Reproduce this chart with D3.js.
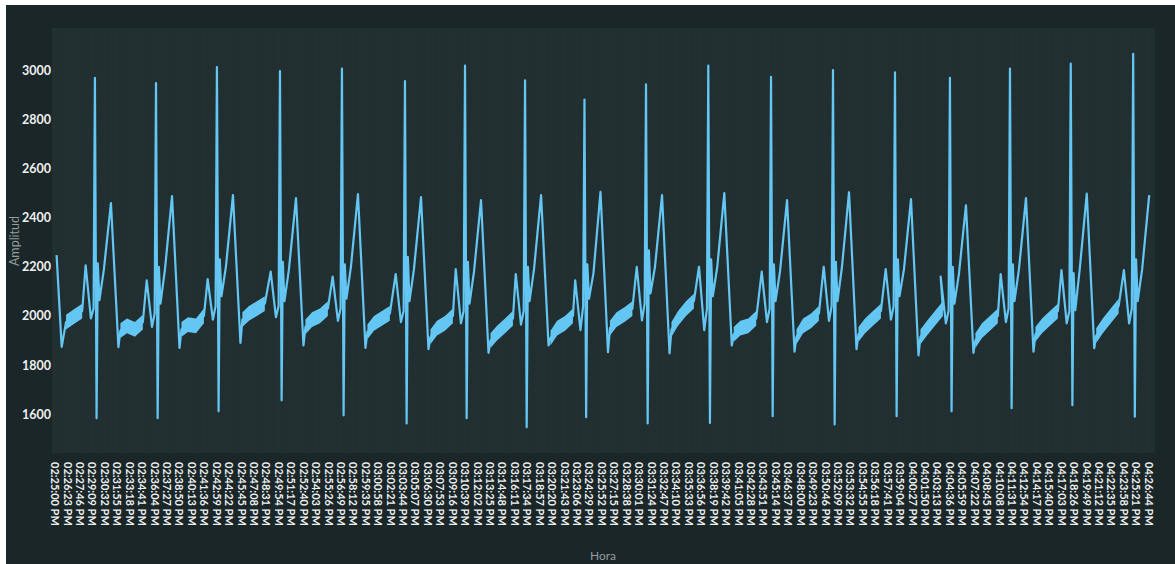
<!DOCTYPE html>
<html>
<head>
<meta charset="utf-8">
<script src="https://cdn.jsdelivr.net/npm/d3@7"></script>
<style>
  body { margin: 0; background: #fff; }
  text { font-family: Lato, "Open Sans", sans-serif; }
</style>
</head>
<body>
<div id="chart"></div>
<script>
// x tick labels (one every 83 s)
const tickLabels = [
  "02:25:00 PM","02:26:23 PM","02:27:46 PM","02:29:09 PM","02:30:32 PM","02:31:55 PM","02:33:18 PM","02:34:41 PM",
  "02:36:04 PM","02:37:27 PM","02:38:50 PM","02:40:13 PM","02:41:36 PM","02:42:59 PM","02:44:22 PM","02:45:45 PM",
  "02:47:08 PM","02:48:31 PM","02:49:54 PM","02:51:17 PM","02:52:40 PM","02:54:03 PM","02:55:26 PM","02:56:49 PM",
  "02:58:12 PM","02:59:35 PM","03:00:58 PM","03:02:21 PM","03:03:44 PM","03:05:07 PM","03:06:30 PM","03:07:53 PM",
  "03:09:16 PM","03:10:39 PM","03:12:02 PM","03:13:25 PM","03:14:48 PM","03:16:11 PM","03:17:34 PM","03:18:57 PM",
  "03:20:20 PM","03:21:43 PM","03:23:06 PM","03:24:29 PM","03:25:52 PM","03:27:15 PM","03:28:38 PM","03:30:01 PM",
  "03:31:24 PM","03:32:47 PM","03:34:10 PM","03:35:33 PM","03:36:56 PM","03:38:19 PM","03:39:42 PM","03:41:05 PM",
  "03:42:28 PM","03:43:51 PM","03:45:14 PM","03:46:37 PM","03:48:00 PM","03:49:23 PM","03:50:46 PM","03:52:09 PM",
  "03:53:32 PM","03:54:55 PM","03:56:18 PM","03:57:41 PM","03:59:04 PM","04:00:27 PM","04:01:50 PM","04:03:13 PM",
  "04:04:36 PM","04:05:59 PM","04:07:22 PM","04:08:45 PM","04:10:08 PM","04:11:31 PM","04:12:54 PM","04:14:17 PM",
  "04:15:40 PM","04:17:03 PM","04:18:26 PM","04:19:49 PM","04:21:12 PM","04:22:35 PM","04:23:58 PM","04:25:21 PM",
  "04:26:44 PM"
];
const yTicks = [1600, 1800, 2000, 2200, 2400, 2600, 2800, 3000];

// signal, seconds after 02:25:00 PM
const leadTimes  = [14, 48, 77, 137, 185];
const leadValues = [2247, 1874, 1975, 2000, 2020];

// one entry per beat
const beatR   = [270, 678, 1085, 1506, 1920, 2341, 2742, 3143, 3540, 3951, 4367, 4786, 5200, 5614, 5981, 6382, 6788, 7205];
const pPeak   = [2206, 2145, 2150, 2180, 2160, 2170, 2190, 2170, 2145, 2200, 2200, 2180, 2200, 2190, 2160, 2170, 2186, 2186];
const pDip    = [1990, 1955, 1985, 1995, 1980, 1975, 1970, 1965, 1942, 1982, 1942, 1975, 1980, 1985, 1970, 1975, 1970, 1970];
const preR    = [2030, 2010, 2040, 2040, 2030, 2020, 2020, 2020, 2040, 2050, 2030, 2030, 2040, 2040, 2020, 2030, 2020, 2030];
const rPeak   = [2968, 2947, 3012, 2996, 3006, 2955, 3018, 2958, 2880, 2942, 3018, 2972, 3000, 2990, 2968, 3006, 3026, 3066];
const sTrough = [1584, 1584, 1612, 1657, 1596, 1563, 1584, 1547, 1588, 1563, 1565, 1592, 1559, 1592, 1612, 1625, 1637, 1590];
const jPeak   = [2214, 2200, 2230, 2220, 2210, 2240, 2220, 2200, 2210, 2267, 2230, 2210, 2220, 2230, 2200, 2210, 2174, 2230];
const jDip    = [2064, 2050, 2080, 2060, 2070, 2060, 2050, 2060, 2070, 2092, 2080, 2060, 2060, 2080, 2050, 2060, 2023, 2060];
const tKnee   = [2190, 2190, 2200, 2190, 2200, 2190, 2180, 2190, 2174, 2200, 2200, 2180, 2200, 2190, 2170, 2190, 2190, 2190];
const tPeak   = [2459, 2487, 2491, 2479, 2495, 2483, 2471, 2491, 2505, 2491, 2499, 2471, 2503, 2475, 2450, 2479, 2497, 2491];
// after each T wave (noisy baseline up to the next beat)
const tLow    = [1873, 1870, 1890, 1880, 1870, 1865, 1850, 1880, 1853, 1848, 1880, 1855, 1865, 1840, 1850, 1855, 1869];
const bandA   = [1940, 1945, 1985, 1955, 1935, 1915, 1900, 1910, 1950, 1945, 1925, 1915, 1925, 1915, 1900, 1925, 1920];
const bandB   = [1960, 1965, 2010, 1985, 1970, 1950, 1930, 1950, 1985, 1990, 1950, 1960, 1960, 1950, 1940, 1960, 1960];
const bandC   = [1945, 1960, 2030, 2000, 1990, 1970, 1960, 1970, 2005, 2030, 1960, 1980, 1990, 1990, 1970, 1990, 2000];
const bandD   = [1975, 2000, 2050, 2030, 2010, 2000, 1990, 2000, 2030, 2060, 1990, 2010, 2020, 2030, 2000, 2020, 2040];
const bandHalf = 30;   // half thickness of the noisy baseline

const W = 1175, H = 564;
const plot = { left: 52, right: 1155, top: 28, bottom: 453 };

const parse = d3.timeParse("%I:%M:%S %p");
const t0 = parse(tickLabels[0]);
const toDate = s => d3.timeSecond.offset(t0, s);

// build the trace
const line = [];
const bands = [];
leadTimes.forEach((t, i) => line.push([t, leadValues[i]]));
bands.push(leadTimes.slice(2).map((t, i) => [t, leadValues[i + 2]]));
beatR.forEach((r, i) => {
  line.push([r - 62, pPeak[i]], [r - 27, pDip[i]], [r - 9, preR[i]], [r, rPeak[i]],
            [r + 11, sTrough[i]], [r + 19, jPeak[i]], [r + 30, jDip[i]], [r + 60, tKnee[i]],
            [r + 107, tPeak[i]]);
  if (i < tLow.length) {
    const b = [[r + 170, bandA[i]], [r + 214, bandB[i]], [r + 267, bandC[i]], [r + 320, bandD[i]]];
    line.push([r + 157, tLow[i]], ...b);
    bands.push(b);
  }
});

const svg = d3.select("#chart").append("svg")
  .attr("width", W).attr("height", H);

svg.append("rect").attr("width", W).attr("height", H).attr("fill", "#ffffff");
svg.append("rect").attr("x", 6).attr("y", 5).attr("width", W - 6).attr("height", H - 5).attr("fill", "#1a2628");
svg.append("rect")
  .attr("x", plot.left).attr("y", plot.top)
  .attr("width", plot.right - plot.left).attr("height", plot.bottom - plot.top)
  .attr("fill", "#222f31");

const x = d3.scaleTime()
  .domain([parse(tickLabels[0]), parse(tickLabels[tickLabels.length - 1])])
  .range([54.5, 1148]);
const y = d3.scaleLinear().domain([1600, 3000]).range([414.3, 70]);

const tickDates = tickLabels.map(parse);

// faint vertical grid
svg.append("g").selectAll("line")
  .data(tickDates).join("line")
  .attr("x1", d => x(d)).attr("x2", d => x(d))
  .attr("y1", plot.top).attr("y2", plot.bottom)
  .attr("stroke", "#253234").attr("stroke-width", 1);

// x axis
const xAxis = svg.append("g")
  .attr("transform", `translate(0,${plot.bottom + 9})`)
  .call(d3.axisBottom(x).tickValues(tickDates).tickSize(0).tickFormat((d, i) => tickLabels[i]));
xAxis.select(".domain").remove();
xAxis.selectAll("text")
  .attr("transform", "rotate(90)")
  .attr("x", 0).attr("y", 0).attr("dy", "0.35em")
  .attr("text-anchor", "start")
  .attr("fill", "#eef0f0")
  .attr("font-size", 11).attr("font-weight", "bold")
  .attr("font-family", "Lato, sans-serif");

// y axis
const yAxis = svg.append("g")
  .attr("transform", `translate(51,0)`)
  .call(d3.axisLeft(y).tickValues(yTicks).tickSize(0).tickPadding(0).tickFormat(d3.format("d")));
yAxis.select(".domain").remove();
yAxis.selectAll("text")
  .attr("fill", "#eef0f0")
  .attr("font-size", 12.5).attr("font-weight", "bold")
  .attr("font-family", "Lato, sans-serif");

// signal
const color = "#64c6f3";
const area = d3.area()
  .x(d => x(toDate(d[0])))
  .y0(d => y(d[1] - bandHalf))
  .y1(d => y(d[1] + bandHalf));
svg.append("g").selectAll("path")
  .data(bands).join("path")
  .attr("d", area)
  .attr("fill", color);

svg.append("path")
  .datum(line)
  .attr("d", d3.line().x(d => x(toDate(d[0]))).y(d => y(d[1])))
  .attr("fill", "none")
  .attr("stroke", color)
  .attr("stroke-width", 2.2)
  .attr("stroke-linejoin", "round");

// axis titles
svg.append("text")
  .attr("transform", `translate(19,241) rotate(-90)`)
  .attr("text-anchor", "middle")
  .attr("fill", "#939b9c")
  .attr("font-size", 12.5)
  .text("Amplitud");
svg.append("text")
  .attr("x", 603).attr("y", 560)
  .attr("text-anchor", "middle")
  .attr("fill", "#939b9c")
  .attr("font-size", 12)
  .text("Hora");
</script>
</body>
</html>
